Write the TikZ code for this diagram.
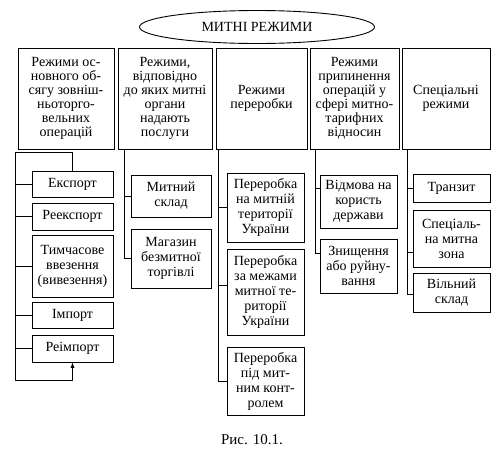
\documentclass[tikz,border=0pt]{standalone}
\usepackage{fontspec}
\setmainfont{Liberation Serif}
\usetikzlibrary{shapes,arrows,positioning,calc}

\tikzset{
  regime/.style={draw,align=center,inner sep=1pt,font=\fontsize{14}{14}\selectfont},
  sub/.style={draw,align=center,inner sep=1pt,font=\fontsize{14}{15}\selectfont},
  link/.style={line width=0.9pt}
}

\begin{document}
\begin{tikzpicture}[x=1pt,y=-1pt,line width=0.9pt]
  \useasboundingbox (0,0) rectangle (504,453);

  % Title
  \node[draw,ellipse,minimum width=235pt,minimum height=33pt,inner sep=0pt,font=\fontsize{14}{14}\selectfont] (title) at (257,27) {МИТНІ РЕЖИМИ};

  % Kinds of regimes
  \node[regime,minimum width=96pt,minimum height=101pt] (b1) at (66,98.5) {Режими ос-\\новного об-\\сягу зовніш-\\ньоторго-\\вельних\\операцій};
  \node[regime,minimum width=94pt,minimum height=101pt] (b2) at (165,98.5) {Режими,\\відповідно\\до яких митні\\органи\\надають\\послуги};
  \node[regime,minimum width=91pt,minimum height=101pt] (b3) at (261.5,98.5) {Режими\\переробки};
  \node[regime,minimum width=89pt,minimum height=101pt] (b4) at (354.5,98.5) {Режими\\припинення\\операцій у\\сфері митно-\\тарифних\\відносин};
  \node[regime,minimum width=88pt,minimum height=101pt] (b5) at (446,98.5) {Спеціальні\\режими};

  % Foreign trade regimes
  \node[sub,minimum width=81pt,minimum height=26pt] (e1) at (72.5,184) {Експорт};
  \node[sub,minimum width=81pt,minimum height=27pt] (e2) at (72.5,216.5) {Реекспорт};
  \node[sub,minimum width=81pt,minimum height=62pt] (e3) at (72.5,266) {Тимчасове\\ввезення\\(вивезення)};
  \node[sub,minimum width=81pt,minimum height=26pt] (e4) at (72.5,315) {Імпорт};
  \node[sub,minimum width=81pt,minimum height=27pt] (e5) at (72.5,348.5) {Реімпорт};

  % Service regimes
  \node[sub,minimum width=80pt,minimum height=42pt] (s1) at (171,196) {Митний\\склад};
  \node[sub,minimum width=80pt,minimum height=59pt] (s2) at (171,258.5) {Магазин\\безмитної\\торгівлі};

  % Processing
  \node[sub,minimum width=77pt,minimum height=69pt] (p1) at (265.5,207.5) {Переробка\\на митній\\території\\України};
  \node[sub,minimum width=77pt,minimum height=86pt] (p2) at (265.5,292) {Переробка\\за межами\\митної те-\\риторії\\України};
  \node[sub,minimum width=77pt,minimum height=68pt] (p3) at (265.5,381) {Переробка\\під мит-\\ним конт-\\ролем};

  % Termination
  \node[sub,minimum width=77pt,minimum height=53pt] (v1) at (358.5,201.5) {Відмова на\\користь\\держави};
  \node[sub,minimum width=77pt,minimum height=54pt] (v2) at (358.5,266) {Знищення\\або руйну-\\вання};

  % Special regimes
  \node[sub,minimum width=77pt,minimum height=28pt] (t1) at (451.5,188) {Транзит};
  \node[sub,minimum width=77pt,minimum height=57pt] (t2) at (451.5,238.5) {Спеціаль-\\на митна\\зона};
  \node[sub,minimum width=77pt,minimum height=39pt] (t3) at (451.5,292.5) {Вільний\\склад};

  % Loop from export to reimport
  \coordinate (loopTop) at (15,152);
  \coordinate (loopBot) at (15,380);
  \draw[link,-latex] (e1.north) |- (loopTop) -- (loopBot) -| (e5.south);
  \foreach \n in {e1,e2,e3,e4,e5}
    \draw[link] (\n.west) -- (\n.west -| loopTop);

  % Spines
  \draw[link] (b2.south -| 124,0) |- (s2.west);
  \draw[link] (s1.west) -- (s1.west -| 124,0);
  \draw[link] (b3.south -| 218,0) |- (p3.west);
  \draw[link] (p1.west) -- (p1.west -| 218,0);
  \draw[link] ([yshift=7pt]p2.west) -- ([yshift=7pt]p2.west -| 218,0);
  \draw[link] (b4.south -| 315,0) |- ([yshift=13pt]v2.west);
  \draw[link] ([yshift=13pt]v1.west) -- ([yshift=13pt]v1.west -| 315,0);
  \draw[link] (b5.south -| 407,0) |- ([yshift=-2pt]t3.west);
  \draw[link] (t1.west) -- (t1.west -| 407,0);
  \draw[link] ([yshift=-14pt]t2.west) -- ([yshift=-14pt]t2.west -| 407,0);

  % Caption
  \node[font=\fontsize{15}{15}\selectfont] (caption) at (252,440) {Рис. 10.1.};
\end{tikzpicture}
\end{document}
